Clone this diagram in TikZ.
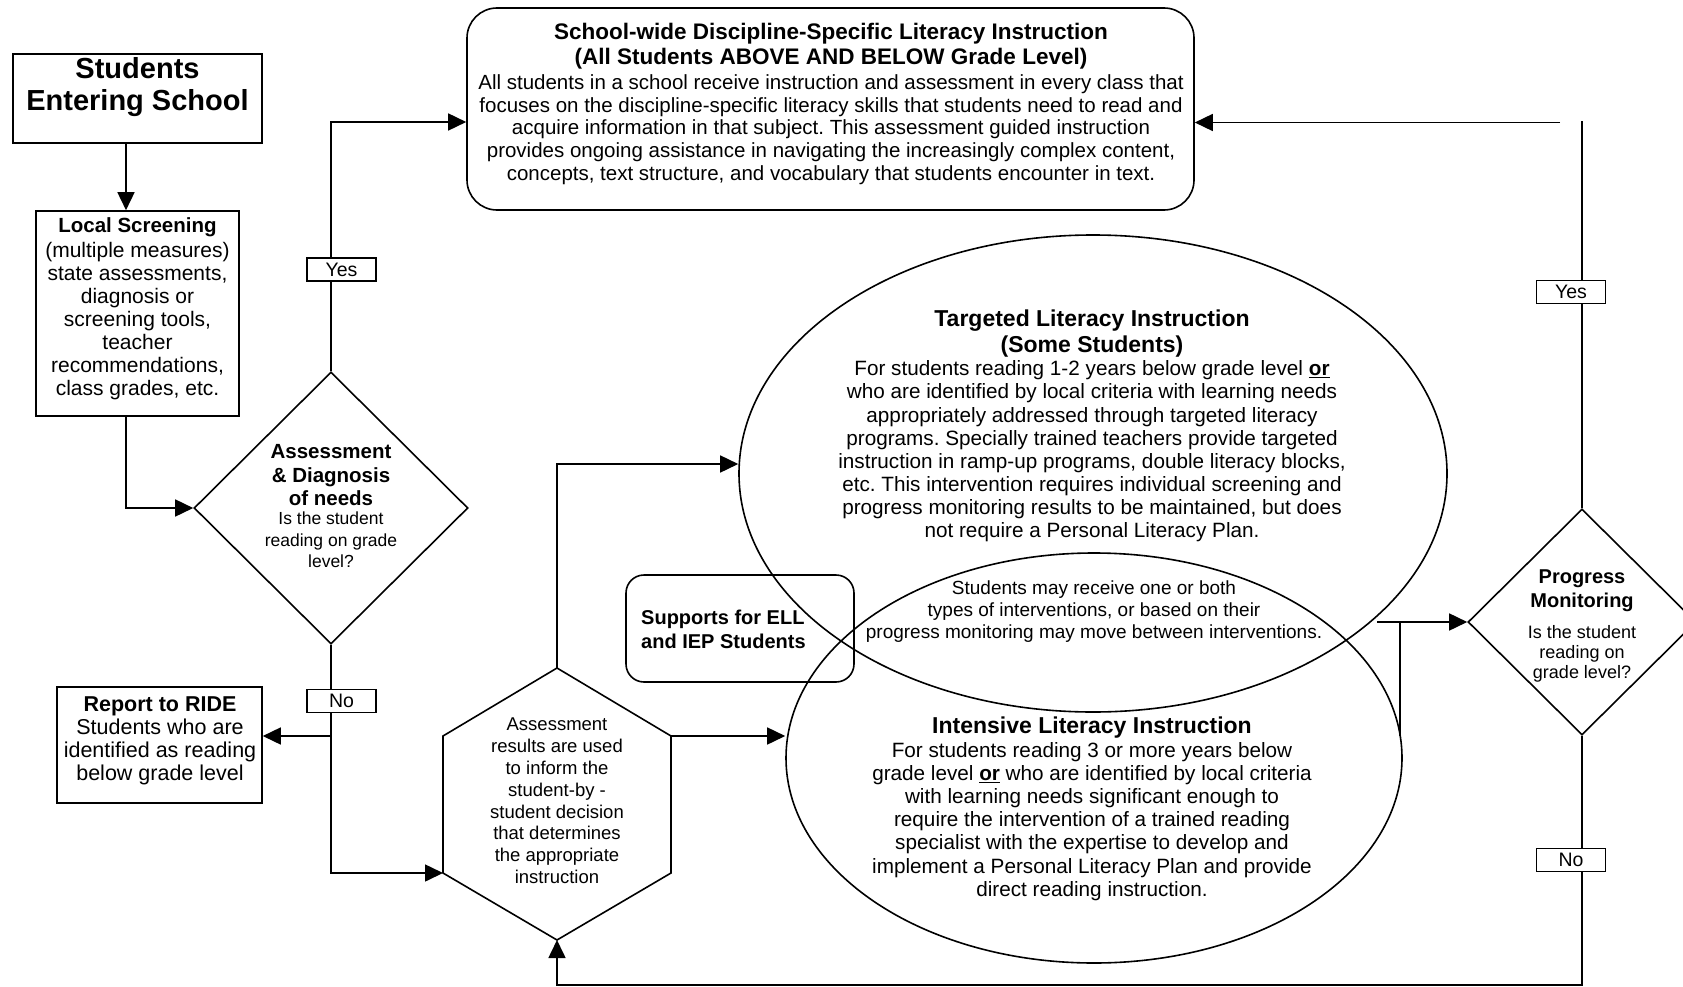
\documentclass[tikz,border=0pt]{standalone}
\usepackage{fontspec}
\setmainfont{Liberation Sans}
\usetikzlibrary{arrows.meta,shapes.geometric}
\newcommand{\myfs}[2]{\fontsize{#1}{#2}\selectfont}
\newcommand{\setsp}{\spaceskip=\fontdimen2\font\xspaceskip=\fontdimen2\font\relax}
\begin{document}
\begin{tikzpicture}[x=1pt,y=-1pt,
  ln/.style={line width=1.6pt},
  arr/.style={line width=1.6pt,-{Triangle[length=18pt,width=17pt]}},
  box/.style={draw,line width=1.6pt,inner sep=0pt},
  tx/.style={inner sep=0pt,align=center},
  tw/.style={inner sep=0pt,align=center,text width=#1},
  lbl/.style={draw,line width=1.4pt,fill=white,minimum width=69pt,minimum height=23pt,inner sep=0pt,font=\myfs{19.5}{22}}]
\clip (0,0) rectangle (1683,987);
\fill[white] (0,0) rectangle (1683,987);

% boxes
\node[box,minimum width=249pt,minimum height=89pt] (stu) at (137.5,98.5) {};
\node[tx,font=\myfs{29}{32}\bfseries] (stut) at (137.5,87.5) {Students\\Entering School};

\node[box,minimum width=203pt,minimum height=205pt] (ls) at (137.5,313.5) {};
\node[tw=200pt] (lst) at (137.5,309) {\myfs{20.5}{25}\bfseries\setsp Local Screening\par\vspace{2pt}\myfs{21}{23}\mdseries\setsp (multiple measures)\\ state assessments,\\ diagnosis or\\ screening tools,\\ teacher\\ recommendations,\\ class grades, etc.\par};

\node[box,rounded corners=30pt,minimum width=727pt,minimum height=202pt] (top) at (830.5,109) {};
\node[tw=720pt] (topt) at (831,104) {\myfs{22.5}{24.7}\bfseries\setsp School-wide Discipline-Specific Literacy Instruction\\ (All Students ABOVE AND BELOW Grade Level)\par\vspace{2pt}\myfs{20.5}{22.7}\mdseries\setsp All students in a school receive instruction and assessment in every class that\\ focuses on the discipline-specific literacy skills that students need to read and\\ acquire information in that subject. This assessment guided instruction\\ provides ongoing assistance in navigating the increasingly complex content,\\ concepts, text structure, and vocabulary that students encounter in text.\par};

\node[draw,diamond,line width=1.6pt,minimum width=274pt,minimum height=272pt,inner sep=0pt] (ad) at (331,508) {};
\node[tw=200pt] (adt) at (331,506.5) {\myfs{20.5}{23.5}\bfseries\setsp Assessment\\ \& Diagnosis\\ of needs\par\vspace{-2.5pt}\myfs{17.5}{21.5}\mdseries\setsp Is the student\\ reading on grade\\ level?\par};

\node[box,minimum width=205pt,minimum height=116pt] (rep) at (159.5,745) {};
\node[tw=205pt] (rept) at (160,741) {\myfs{21.5}{23.5}\bfseries\setsp Report to RIDE\par\myfs{21.5}{23}\mdseries\setsp Students who are\\ identified as reading\\ below grade level\par};

% hexagon
\coordinate (hexT) at (557,668);
\coordinate (hexUR) at (671,736);
\coordinate (hexLR) at (671,873);
\coordinate (hexB) at (557,940);
\coordinate (hexLL) at (443,873);
\coordinate (hexUL) at (443,736);
\draw[ln,line join=miter] (hexT) -- (hexUR) -- (hexLR) -- (hexB) -- (hexLL) -- (hexUL) -- cycle;
\node[tx,font=\myfs{18.5}{21.8}] (hext) at (557,801) {Assessment\\ results are used\\ to inform the\\ student-by -\\ student decision\\ that determines\\ the appropriate\\ instruction};

% ellipses
\node[draw,ellipse,line width=1.6pt,minimum width=708pt,minimum height=477pt,inner sep=0pt] (targ) at (1093,473.5) {};
\node[draw,ellipse,line width=1.6pt,minimum width=616pt,minimum height=410pt,inner sep=0pt] (int) at (1094,758) {};
\node[tw=600pt] (targt) at (1092,426) {\myfs{23}{26}\bfseries\setsp Targeted Literacy Instruction\\ (Some Students)\par\myfs{20.7}{23.15}\mdseries\setsp For students reading 1-2 years below grade level \underline{\textbf{or}}\\ who are identified by local criteria with learning needs\\ appropriately addressed through targeted literacy\\ programs. Specially trained teachers provide targeted\\ instruction in ramp-up programs, double literacy blocks,\\ etc. This intervention requires individual screening and\\ progress monitoring results to be maintained, but does\\ not require a Personal Literacy Plan.\par};
\node[tx,font=\myfs{19}{22}] (lens) at (1094,612) {Students may receive one or both\\ types of interventions, or based on their\\ progress monitoring may move between interventions.};
\node[tw=600pt] (intt) at (1092,809) {\myfs{23}{26}\bfseries\setsp Intensive Literacy Instruction\par\myfs{20.7}{23.2}\mdseries\setsp For students reading 3 or more years below\\ grade level \underline{\textbf{or}} who are identified by local criteria\\ with learning needs significant enough to\\ require the intervention of a trained reading\\ specialist with the expertise to develop and\\ implement a Personal Literacy Plan and provide\\ direct reading instruction.\par};

\node[box,rounded corners=18pt,minimum width=228pt,minimum height=107pt] (sup) at (740,628.5) {};
\node[inner sep=0pt,align=left,anchor=west,font=\myfs{20}{24}\bfseries] (supt) at (641,629) {Supports for ELL\\ and IEP Students};

% progress monitoring
\node[draw,diamond,line width=1.6pt,minimum width=228pt,minimum height=226pt,inner sep=0pt] (pm) at (1582,622) {};
\node[tw=200pt] (pmt) at (1582,626) {\myfs{20}{24}\bfseries\setsp Progress\\ Monitoring\par\vspace{11pt}\myfs{18}{19.7}\mdseries\setsp Is the student\\ reading on\\ grade level?\par};

% connectors
\draw[arr] ([xshift=-11.5pt]stu.south) -- ([xshift=-11.5pt]ls.north);
\draw[arr] ([xshift=-11.5pt]ls.south) |- (ad.west);
\draw[arr] (ad.north) |- ([yshift=-13pt]top.west);
\draw[arr] (ad.south) |- (hexLL);
\coordinate (jr) at (331,736);
\draw[arr] (jr) -- (jr -| rep.east);
\draw[arr] (hexT) |- ([yshift=9.5pt]targ.west);
\draw[arr] (hexUR) -- (hexUR -| int.west);
\coordinate (j1) at (1377,622);
\coordinate (j2) at (1400,736);
\draw[arr] (j1) -- (pm.west);
\draw[ln] (j1 -| j2) -- (j2);
\coordinate (ytop) at (1582,121.5);
\draw[ln] (pm.north) -- (ytop);
\coordinate (yl) at (1560,122.5);
\draw[arr] (yl) -- (yl -| top.east);
\coordinate (bot) at (1582,985);
\draw[arr] (pm.south) -- (bot) -| (hexB);

% labels
\node[lbl] (yes1) at (341.5,269.5) {Yes};
\node[lbl] (no1) at (341.5,701) {No};
\node[lbl] (yes2) at (1571,292) {Yes};
\node[lbl] (no2) at (1571,860) {No};
\end{tikzpicture}
\end{document}
